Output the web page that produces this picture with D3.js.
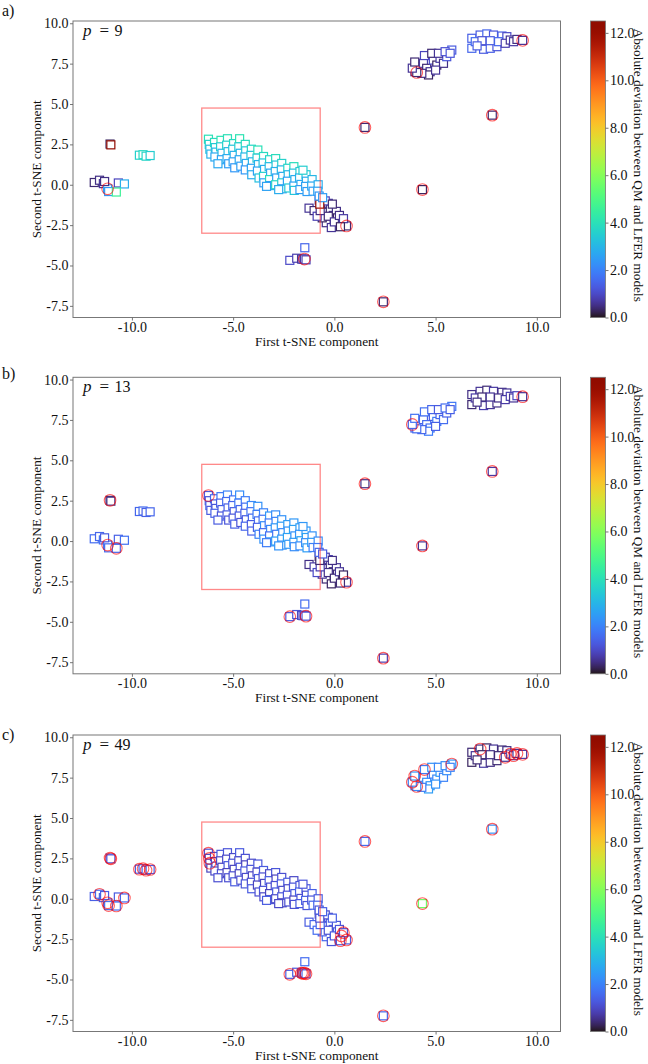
<!DOCTYPE html>
<html><head><meta charset="utf-8">
<script src="https://cdn.jsdelivr.net/npm/d3@7"></script>
<style>html,body{margin:0;padding:0;background:#fff;} svg{display:block;}</style>
</head><body><svg id="c" width="648" height="1064"></svg>
<script>
// ---------- DATA ----------
const panelLetters = ["a)", "b)", "c)"];
const perplexities = ["9", "13", "49"];
const xTicks = [-10, -5, 0, 5, 10];
const xTickLabels = ["-10.0", "-5.0", "0.0", "5.0", "10.0"];
const yTicks = [-7.5, -5, -2.5, 0, 2.5, 5, 7.5, 10];
const yTickLabels = ["-7.5", "-5.0", "-2.5", "0.0", "2.5", "5.0", "7.5", "10.0"];
const cTicks = [0, 2, 4, 6, 8, 10, 12];
const cTickLabels = ["0.0", "2.0", "4.0", "6.0", "8.0", "10.0", "12.0"];
const xDomain = [-12.91, 11.17];
const yDomain = [-8.22, 10.14];
const cDomain = [0, 12.5];
const boxX = [-6.55, -0.7];
const boxY = [-3.0, 4.75];

// t-SNE coordinates (same embedding in all three panels)
const tsneX = [
  -11.86,-11.6,-11.41,-11.2,-11.15,-10.67,-10.37,-10.77,-11.35,
  -11.08,-11.04,
  -9.63,-9.45,-9.3,-9.1,
  -2.2,-1.86,-1.46,-1.62,-1.55,-1.48,-1.4,
  1.51,4.35,2.42,7.8,
  3.98,4.15,4.4,4.56,4.73,4.89,5.06,5.22,5.39,5.55,5.8,4.45,4.81,5.14,5.47,5.72,4.65,4.32,4.07,5.0,
  6.79,7.2,7.53,7.86,8.28,8.52,6.79,7.37,7.7,8.03,6.96,7.29,7.7,8.11,8.44,8.69,8.85,9.02,9.3,7.05,
  -1.25,-1.0,-0.75,-0.65,-0.5,-0.3,-0.2,-0.05,0.1,0.15,0.35,0.6,-0.4,-0.15,-0.6,-0.85,-0.3,0.0,0.25,-0.45,-0.1,0.45,0.3,-0.7,-0.72,
  -6.22,-6.18,-6.15,-6.1,
  -5.92,-5.88,-5.85,-5.9,
  -5.6,-5.62,-5.55,-5.58,
  -5.28,-5.32,-5.25,-5.3,-5.22,
  -4.98,-5.02,-4.95,-5.0,-4.92,
  -4.68,-4.72,-4.65,-4.7,-4.62,
  -4.4,-4.38,-4.42,-4.35,-4.4,
  -4.1,-4.12,-4.05,-4.1,-4.08,
  -3.78,-3.82,-3.75,-3.8,-3.72,
  -3.5,-3.52,-3.45,-3.5,-3.48,
  -3.2,-3.22,-3.15,-3.2,-3.18,
  -2.9,-2.88,-2.92,-2.85,-2.9,
  -2.6,-2.62,-2.55,-2.6,-2.58,
  -2.3,-2.28,-2.32,-2.25,
  -2.0,-2.02,-1.95,-2.0,-1.98,
  -1.7,-1.72,-1.65,-1.7,
  -1.4,-1.38,-1.42,-1.35,
  -1.1,-1.12,-1.05,
  -0.8,-0.82,-0.75,
  -0.58,
  3.85,3.97,-5.75,-1.55,-3.35,-2.75
];
const tsneY = [
  0.14,0.28,0.07,-0.25,-0.42,0.11,0.05,-0.45,0.2,
  2.52,2.47,
  1.83,1.86,1.77,1.81,
  -4.68,-4.55,-3.9,-4.6,-4.62,-4.6,-4.65,
  3.55,-0.3,-7.25,4.31,
  7.0,7.31,7.52,7.21,7.0,7.72,7.41,7.83,7.52,7.93,8.34,8.0,8.14,8.14,8.24,8.14,6.8,6.9,6.95,7.1,
  9.07,9.27,9.34,9.27,9.21,9.17,8.45,8.39,8.45,8.55,8.86,8.92,8.92,8.86,8.76,8.96,8.86,9.0,8.94,8.6,
  -1.45,-1.6,-0.95,-1.25,-1.7,-1.15,-1.5,-1.9,-1.65,-2.05,-2.3,-2.55,-2.35,-2.65,-2.05,-1.95,-1.95,-2.3,-1.9,-1.0,-1.2,-2.1,-2.6,-1.6,-1.2,
  2.82,2.5,2.2,1.9,
  2.62,2.3,2.02,1.72,
  2.75,2.35,1.95,1.55,
  2.85,2.45,2.05,1.62,1.3,
  2.55,2.2,1.82,1.42,1.05,
  2.85,2.35,1.95,1.55,1.15,
  2.5,2.1,1.72,1.32,0.92,
  2.2,1.82,1.42,1.02,0.62,
  2.15,1.65,1.25,0.85,0.42,
  1.75,1.35,0.95,0.52,0.12,
  1.55,1.12,0.72,0.32,-0.05,
  1.62,1.22,0.82,0.42,0.0,
  1.32,0.92,0.52,0.12,-0.25,
  1.02,0.62,0.22,-0.2,
  1.12,0.72,0.32,-0.08,-0.35,
  0.82,0.42,0.02,-0.3,
  0.62,0.22,-0.1,-0.42,
  0.32,-0.08,-0.4,
  0.0,-0.4,-0.7,
  -0.8,
  7.22,7.6,1.3,0.9,-0.1,-0.3
];

// Absolute deviation between QM and LFER models, per panel
const devA = [
  0.4,0.5,0.6,2.6,2.4,0.9,2.8,4.6,0.5,
  0.3,12.2,
  3.6,3.8,3.7,3.5,
  1.0,0.8,1.5,0.6,0.9,0.7,0.8,
  0.4,0.3,0.4,0.4,
  0.5,0.3,0.8,0.4,0.6,1.0,0.3,0.7,0.5,1.2,1.3,0.9,0.4,0.6,1.1,1.2,0.3,0.5,0.4,0.6,
  1.4,1.3,1.5,1.2,1.4,1.0,1.5,1.3,1.4,1.2,1.6,1.1,1.3,1.5,0.8,0.6,0.7,0.5,0.6,1.3,
  0.6,0.4,0.8,0.5,0.3,0.7,0.4,0.6,0.5,0.3,0.7,0.4,0.5,0.6,0.3,0.8,0.4,0.6,0.5,0.9,0.4,0.7,0.3,0.5,12.0,
  4.0,3.6,3.2,2.9,
  3.9,3.4,3.0,2.7,
  4.1,3.5,3.0,2.6,
  4.0,3.6,3.1,2.8,2.5,
  3.8,3.3,2.9,2.6,2.4,
  4.1,3.5,3.0,2.7,2.5,
  3.9,3.4,3.0,2.7,2.4,
  3.7,3.3,2.9,2.6,2.8,
  4.0,3.4,2.9,2.6,3.2,
  3.8,3.2,2.8,3.6,2.5,
  3.7,3.1,2.7,3.9,2.6,
  3.9,3.3,2.9,2.6,3.8,
  3.6,3.0,2.7,3.5,2.5,
  3.7,3.0,2.6,3.4,
  3.9,3.2,2.8,2.6,3.3,
  3.5,2.9,2.7,2.5,
  3.4,2.8,2.6,2.5,
  3.0,2.7,2.5,
  2.8,2.6,2.4,
  2.5,
  0.6,0.4,2.7,3.5,2.6,2.8
];
const devB = [
  1.6,1.5,1.7,1.8,1.6,1.4,1.7,1.5,1.3,
  0.4,0.5,
  1.5,1.6,1.4,1.5,
  1.3,1.2,1.6,0.9,1.1,1.0,1.2,
  0.5,0.6,0.8,0.7,
  1.5,1.8,1.4,1.6,1.7,1.3,1.9,1.5,1.6,1.4,1.8,1.7,1.5,1.3,1.6,1.4,1.9,1.5,1.6,1.4,
  0.5,0.6,0.4,0.7,0.5,0.6,0.4,0.8,0.6,0.5,0.7,0.4,0.6,0.5,0.7,0.8,0.6,0.9,0.6,0.5,
  0.5,0.7,0.3,0.6,0.4,0.8,0.5,0.3,0.6,0.4,0.5,0.7,0.4,0.3,0.6,1.0,0.5,0.4,0.6,0.7,0.5,0.3,0.4,0.8,0.4,
  1.3,1.2,1.4,1.3,
  1.5,1.3,1.2,1.4,
  1.8,1.4,1.3,1.2,
  2.0,1.6,1.4,1.3,1.2,
  1.7,1.5,1.3,1.2,1.4,
  2.2,1.8,1.5,1.3,1.2,
  1.9,1.6,1.4,1.3,1.5,
  2.1,1.7,1.5,1.3,1.4,
  2.3,1.9,1.6,1.4,2.0,
  2.0,1.7,2.2,1.5,2.3,
  2.4,1.8,2.1,1.6,2.4,
  2.2,2.0,2.4,1.7,2.5,
  2.3,2.5,2.1,2.4,2.2,
  2.5,2.3,2.6,2.4,
  2.4,2.6,2.3,2.5,2.2,
  2.5,2.3,2.6,2.2,
  2.4,2.6,2.2,2.5,
  2.3,2.5,2.0,
  2.2,1.8,1.5,
  1.3,
  1.5,1.7,1.3,2.4,1.9,2.3
];
const devC = [
  1.4,1.6,1.5,1.7,1.8,1.3,1.5,1.6,1.4,
  1.5,1.3,
  1.4,1.5,1.3,1.4,
  1.4,1.3,1.6,1.2,1.5,1.3,1.4,
  1.6,5.6,1.5,2.3,
  2.0,2.3,1.9,2.2,2.4,1.8,2.1,2.5,2.0,2.2,2.4,1.9,2.3,2.1,2.2,2.0,2.5,1.9,2.1,2.3,
  0.4,0.5,0.3,0.6,0.4,0.5,0.3,0.7,0.5,0.4,0.6,0.3,0.5,0.4,0.6,0.7,0.8,0.6,0.7,0.4,
  1.3,1.5,1.1,1.4,1.2,1.0,1.3,1.5,1.2,1.4,1.1,1.3,1.5,1.2,1.4,1.6,1.1,1.3,1.2,1.0,1.4,1.2,1.3,1.5,1.1,
  1.2,1.0,1.1,0.9,
  1.1,0.9,1.2,1.0,
  1.3,1.0,0.9,1.1,
  1.2,1.0,1.3,0.9,1.1,
  1.0,1.2,0.9,1.1,1.3,
  1.3,1.0,1.2,0.9,1.1,
  1.1,0.9,1.3,1.0,1.2,
  1.0,1.2,0.9,1.1,1.3,
  1.2,1.0,1.3,0.9,1.1,
  1.3,1.1,0.9,1.2,1.0,
  1.0,1.3,1.1,0.9,1.2,
  1.2,0.9,1.1,1.3,1.0,
  1.1,1.3,1.0,1.2,0.9,
  1.3,1.0,1.2,1.1,
  1.0,1.2,1.3,0.9,1.1,
  1.2,1.4,1.1,1.3,
  1.3,1.1,1.4,1.2,
  1.4,1.2,1.5,
  1.3,1.5,1.2,
  1.4,
  2.0,2.3,1.1,1.2,1.3,1.0
];
// indices of points marked with red circles in each panel
const outA = [3, 20, 77, 44, 64, 22, 23, 24, 25];
const outB = [9, 3, 7, 91, 15, 21, 77, 177, 64, 22, 23, 24, 25];
const outC = [1, 3, 4, 6, 7, 9, 10, 11, 12, 13, 14, 91, 92, 93, 15, 18, 19, 20, 21,
              76, 77, 87, 88, 37, 36, 178, 177, 44, 47, 60, 61, 62, 63, 64, 22, 23, 24, 25];

// ---------- DRAW ----------
const devs = [devA, devB, devC];
const outs = [outA, outB, outC];
const FONT = "'Liberation Serif','Times New Roman',Times,serif";
const svg = d3.select("#c");
svg.append("rect").attr("width", 648).attr("height", 1064).attr("fill", "#fff");

const plotL = 73, plotR = 560.5, plotH = 296.5, cbL = 590.5, cbW = 15;
const panelTops = [21, 377.3, 735];
const letterBase = [15.5, 378.5, 739.5];
const N = Math.min(tsneX.length, tsneY.length);

const x = d3.scaleLinear().domain(xDomain).range([plotL, plotR]);
const y = d3.scaleLinear().domain(yDomain).range([plotH, 0]);
const color = d3.scaleSequential(d3.interpolateTurbo).domain(cDomain);
const cy = d3.scaleLinear().domain(cDomain).range([plotH, 0]);

const defs = svg.append("defs");
const grad = defs.append("linearGradient").attr("id", "turbo")
  .attr("x1", 0).attr("y1", 1).attr("x2", 0).attr("y2", 0);
d3.range(0, 1.0001, 0.02).forEach(t =>
  grad.append("stop").attr("offset", t).attr("stop-color", d3.interpolateTurbo(t)));

function styleAxis(g) {
  g.select(".domain").remove();
  g.selectAll(".tick line").attr("stroke", "#666").attr("stroke-width", 0.9);
  g.selectAll(".tick text").attr("font-family", FONT).attr("font-size", 14).attr("fill", "#111");
}

devs.forEach((dev, p) => {
  const g = svg.append("g").attr("transform", `translate(0,${panelTops[p]})`);

  // squares
  g.append("g").selectAll("rect")
    .data(d3.range(N))
    .join("rect")
    .attr("x", i => x(tsneX[i]) - 4)
    .attr("y", i => y(tsneY[i]) - 4)
    .attr("width", 8).attr("height", 8)
    .attr("fill", "#fff")
    .attr("stroke", i => color(dev[i] ?? 0))
    .attr("stroke-width", 1.2);

  // red circles
  g.append("g").selectAll("circle")
    .data(outs[p])
    .join("circle")
    .attr("cx", i => x(tsneX[i]))
    .attr("cy", i => y(tsneY[i]))
    .attr("r", 5.8)
    .attr("fill", "none")
    .attr("stroke", "rgba(255,0,0,0.62)")
    .attr("stroke-width", 1.1);

  // highlighted region
  g.append("rect")
    .attr("x", x(boxX[0])).attr("y", y(boxY[1]))
    .attr("width", x(boxX[1]) - x(boxX[0]))
    .attr("height", y(boxY[0]) - y(boxY[1]))
    .attr("fill", "none").attr("stroke", "rgba(255,40,40,0.55)").attr("stroke-width", 1.3);

  // frame
  g.append("rect").attr("x", plotL).attr("y", 0)
    .attr("width", plotR - plotL).attr("height", plotH)
    .attr("fill", "none").attr("stroke", "#777").attr("stroke-width", 1);

  // axes
  g.append("g").attr("transform", `translate(0,${plotH})`)
    .call(d3.axisBottom(x).tickValues(xTicks).tickFormat((d, i) => xTickLabels[i]).tickSize(3).tickPadding(1.5))
    .call(styleAxis);
  g.append("g").attr("transform", `translate(${plotL},0)`)
    .call(d3.axisLeft(y).tickValues(yTicks).tickFormat((d, i) => yTickLabels[i]).tickSize(3).tickPadding(1.5))
    .call(styleAxis);

  // axis titles
  g.append("text").attr("x", (plotL + plotR) / 2).attr("y", plotH + 28)
    .attr("text-anchor", "middle").attr("font-family", FONT).attr("font-size", 13.3).attr("fill", "#111")
    .text("First t-SNE component");
  g.append("text").attr("transform", `translate(41,${plotH / 2}) rotate(-90)`)
    .attr("text-anchor", "middle").attr("font-family", FONT).attr("font-size", 13.3).attr("fill", "#111")
    .text("Second t-SNE component");

  // perplexity label
  g.append("text").attr("x", 83).attr("y", 15).attr("font-family", FONT).attr("font-size", 17)
    .attr("font-style", "italic").attr("fill", "#111").text("p");
  g.append("text").attr("x", 99.5).attr("y", 15).attr("font-family", FONT).attr("font-size", 17)
    .attr("fill", "#111").text("=");
  g.append("text").attr("x", 114.5).attr("y", 15).attr("font-family", FONT).attr("font-size", 16)
    .attr("fill", "#111").text(perplexities[p]);

  // colorbar
  g.append("rect").attr("x", cbL).attr("y", 0).attr("width", cbW).attr("height", plotH)
    .attr("fill", "url(#turbo)").attr("stroke", "#777").attr("stroke-width", 0.8);
  g.append("g").attr("transform", `translate(${cbL + cbW},0)`)
    .call(d3.axisRight(cy).tickValues(cTicks).tickFormat((d, i) => cTickLabels[i]).tickSize(3).tickPadding(1.5))
    .call(styleAxis);
  g.append("text").attr("transform", `translate(634,${plotH / 2 - 4}) rotate(90)`)
    .attr("text-anchor", "middle").attr("font-family", FONT).attr("font-size", 13.3).attr("fill", "#111")
    .text("Absolute deviation between QM and LFER models");

  // panel letter
  svg.append("text").attr("x", 2).attr("y", letterBase[p])
    .attr("font-family", FONT).attr("font-size", 16).attr("fill", "#111").text(panelLetters[p]);
});
</script></body></html>
